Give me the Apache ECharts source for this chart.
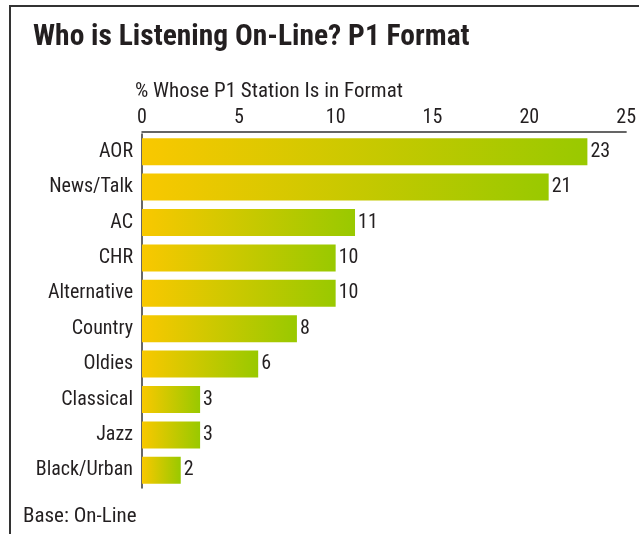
<!DOCTYPE html>
<html>
<head>
<meta charset="utf-8">
<script src="https://cdn.jsdelivr.net/npm/echarts@6/dist/echarts.min.js"></script>
<style>
  html, body { margin: 0; padding: 0; background: #fff; }
  #chart { width: 639px; height: 534px; }
</style>
</head>
<body>
<div id="chart"></div>
<script>
// Formats, listed top to bottom
const formats = ['AOR', 'News/Talk', 'AC', 'CHR', 'Alternative', 'Country', 'Oldies', 'Classical', 'Jazz', 'Black/Urban'];
// % whose P1 station is in each format
const shares = [23, 21, 11, 10, 10, 8, 6, 3, 3, 2];
// Scale ticks
const scaleTicks = [0, 5, 10, 15, 20, 25];

const FONT = "'Liberation Sans Narrow', 'Roboto Condensed', 'DejaVu Sans Condensed', 'Liberation Sans', sans-serif";
const INK = '#231f20';

const chart = echarts.init(document.getElementById('chart'), null, { renderer: 'canvas' });

const barFill = new echarts.graphic.LinearGradient(0, 0, 1, 0, [
  { offset: 0, color: '#f9c800' },
  { offset: 1, color: '#99c900' }
]);

chart.setOption({
  backgroundColor: '#ffffff',
  animation: false,
  title: [
    {
      text: 'Who is Listening On-Line? P1 Format',
      left: 28, top: 18,
      textStyle: { fontFamily: FONT, fontSize: 29.5, fontWeight: 'bold', color: INK }
    },
    {
      text: '% Whose P1 Station Is in Format',
      left: 130, top: 76,
      textStyle: { fontFamily: FONT, fontSize: 21, fontWeight: 'normal', color: INK }
    },
    {
      text: 'Base: On-Line',
      left: 18, top: 501,
      textStyle: { fontFamily: FONT, fontSize: 21, fontWeight: 'normal', color: INK }
    }
  ],
  graphic: [
    {
      type: 'polyline',
      shape: { points: [[10, 534], [10, 6], [639, 6]] },
      style: { stroke: '#333', lineWidth: 2, fill: null }
    }
  ],
  grid: { left: 142, right: 12, top: 134, height: 354, containLabel: false },
  xAxis: {
    type: 'value',
    position: 'top',
    offset: 2,
    min: scaleTicks[0],
    max: scaleTicks[scaleTicks.length - 1],
    interval: scaleTicks[1] - scaleTicks[0],
    splitLine: { show: false },
    axisTick: { show: false },
    axisLine: { show: true, lineStyle: { color: '#333', width: 1.5 } },
    axisLabel: { margin: 4, fontFamily: FONT, fontSize: 20, color: INK }
  },
  yAxis: {
    type: 'category',
    data: formats,
    inverse: true,
    axisTick: { show: false },
    axisLine: { show: true, lineStyle: { color: '#333', width: 1.5 } },
    axisLabel: { margin: 9, fontFamily: FONT, fontSize: 20, color: INK }
  },
  series: [
    {
      type: 'bar',
      data: shares,
      barWidth: 27,
      itemStyle: { color: barFill },
      label: {
        show: true,
        position: 'right',
        distance: 3,
        fontFamily: FONT,
        fontSize: 20,
        color: INK
      }
    }
  ]
});
</script>
</body>
</html>
